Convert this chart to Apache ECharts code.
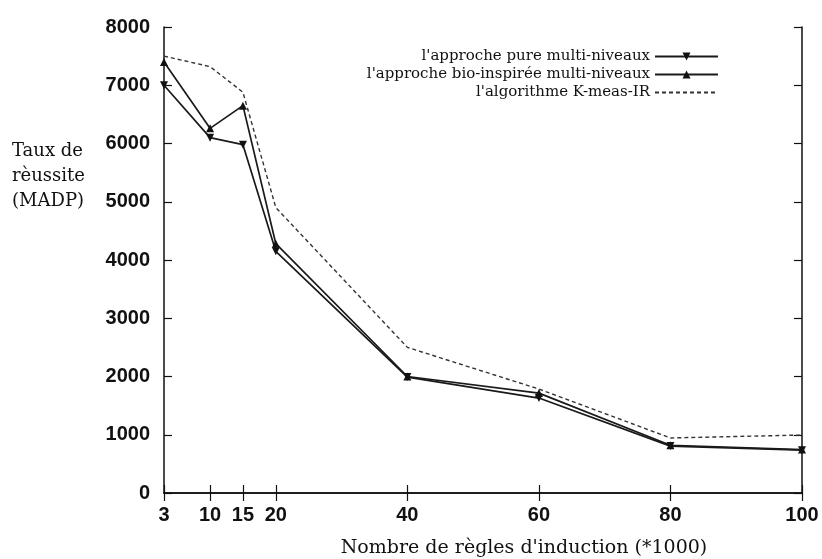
<!DOCTYPE html>
<html>
<head>
<meta charset="utf-8">
<script src="https://cdn.jsdelivr.net/npm/echarts@6/dist/echarts.min.js"></script>
<style>
  html, body { margin: 0; padding: 0; background: #fff; }
  #chart { width: 822px; height: 559px; }
</style>
</head>
<body>
<div id="chart"></div>
<script>
// Number of induction rules (thousands)
const ruleCounts = [3, 10, 15, 20, 40, 60, 80, 100];
const xTickValues = [3, 10, 15, 20, 40, 60, 80, 100];

// Success rate (MADP) per approach
const pureMulti = [7000, 6100, 5980, 4150, 1990, 1630, 805, 735];
const bioMulti = [7400, 6260, 6650, 4280, 2000, 1715, 820, 745];
const kMeasIR = [7500, 7320, 6880, 4900, 2500, 1785, 945, 995];

const seriesNames = [
  "l'approche pure multi-niveaux",
  "l'approche bio-inspirée multi-niveaux",
  "l'algorithme K-meas-IR"
];

const pairs = (xs, ys) => xs.map((x, i) => [x, ys[i]]);

const tickFont = { fontFamily: 'Liberation Sans Narrow, Liberation Sans, Arial, sans-serif', fontSize: 20, fontWeight: 'bold', color: '#111' };
const serif = 'DejaVu Serif, Georgia, serif';
const axisLineStyle = { color: '#111', width: 1.5 };
const tickStyle = { color: '#111', width: 1.2 };

const chart = echarts.init(document.getElementById('chart'));
chart.setOption({
  animation: false,
  backgroundColor: '#fff',
  grid: { left: 164, right: 20, top: 27, bottom: 66 },
  legend: {
    orient: 'vertical',
    right: 98,
    top: 44,
    align: 'right',
    itemGap: 3,
    itemWidth: 63,
    itemHeight: 10,
    textStyle: { fontFamily: serif, fontSize: 15, color: '#111' },
    data: seriesNames
  },
  xAxis: [
    {
      type: 'value', min: 3, max: 100, position: 'bottom',
      axisLine: { show: true, lineStyle: axisLineStyle },
      axisTick: { show: true, inside: true, length: 8, customValues: xTickValues, lineStyle: tickStyle },
      axisLabel: Object.assign({ customValues: xTickValues, margin: 12 }, tickFont),
      splitLine: { show: false }
    },
    {
      type: 'value', min: 3, max: 100, position: 'top',
      axisLine: { show: true, lineStyle: axisLineStyle },
      axisTick: { show: true, inside: true, length: 8, customValues: xTickValues, lineStyle: tickStyle },
      axisLabel: { show: false },
      splitLine: { show: false }
    }
  ],
  yAxis: [
    {
      type: 'value', min: 0, max: 8000, interval: 1000, position: 'left',
      axisLine: { show: true, lineStyle: axisLineStyle },
      axisTick: { show: true, inside: true, length: 8, lineStyle: tickStyle },
      axisLabel: Object.assign({ margin: 14, formatter: v => String(v) }, tickFont),
      splitLine: { show: false }
    },
    {
      type: 'value', min: 0, max: 8000, interval: 1000, position: 'right',
      axisLine: { show: true, lineStyle: axisLineStyle },
      axisTick: { show: true, inside: true, length: 8, lineStyle: tickStyle },
      axisLabel: { show: false },
      splitLine: { show: false }
    }
  ],
  graphic: [
    {
      type: 'text', left: 12, top: 139,
      style: {
        text: 'Taux de\nrèussite\n(MADP)',
        font: '18px ' + serif,
        lineHeight: 25,
        fill: '#111'
      }
    },
    {
      type: 'text', x: 524, y: 548,
      style: {
        text: "Nombre de règles d'induction (*1000)",
        font: '19px ' + serif,
        align: 'center',
        verticalAlign: 'middle',
        fill: '#111'
      }
    }
  ],
  series: [
    {
      name: seriesNames[0], type: 'line', data: pairs(ruleCounts, pureMulti),
      symbol: 'triangle', symbolRotate: 180, symbolSize: 8,
      lineStyle: { color: '#1a1a1a', width: 1.7 },
      itemStyle: { color: '#111' }
    },
    {
      name: seriesNames[1], type: 'line', data: pairs(ruleCounts, bioMulti),
      symbol: 'triangle', symbolSize: 8,
      lineStyle: { color: '#1a1a1a', width: 1.7 },
      itemStyle: { color: '#111' }
    },
    {
      name: seriesNames[2], type: 'line', data: pairs(ruleCounts, kMeasIR),
      symbol: 'none',
      lineStyle: { color: '#333', width: 1.4, type: [4, 3] },
      itemStyle: { color: 'rgba(0,0,0,0)' }
    }
  ]
});
</script>
</body>
</html>
